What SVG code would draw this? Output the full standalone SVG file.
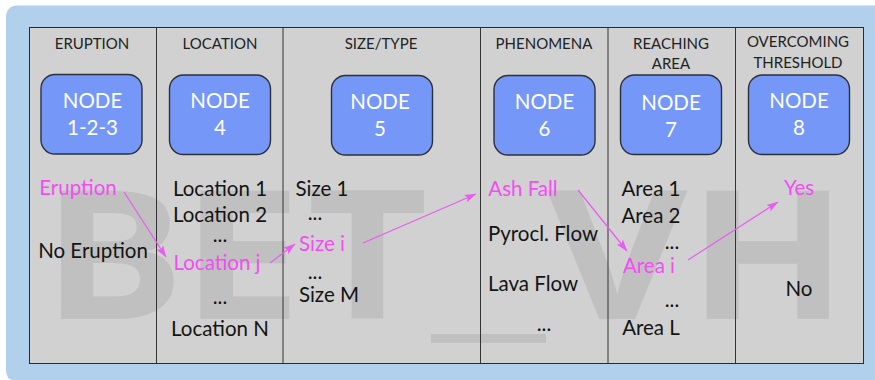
<svg xmlns="http://www.w3.org/2000/svg" width="875" height="380" viewBox="0 0 875 380">
<style>
text{font-family:Lato,"Open Sans","Liberation Sans",sans-serif;text-anchor:middle}
.h{font-size:15px;fill:#222}
.n{font-size:20.500px;fill:#fff}
.t{font-size:20.500px;fill:#141414}
.p{font-size:20.500px;fill:#f24df2}
.box{fill:#7597f8;stroke:#2c3038;stroke-width:1.4}
.div{stroke:#333;stroke-width:1;fill:none}
.a{stroke:#e85cf0;stroke-width:1.2;fill:none;marker-end:url(#ah)}
.w{font-family:"Open Sans",sans-serif;font-size:180px;font-weight:700;fill:#c0c0c0;text-anchor:start}
</style>
<defs>
<marker id="ah" viewBox="0 0 12 8" refX="11.500" refY="4" markerWidth="12" markerHeight="8" markerUnits="userSpaceOnUse" orient="auto"><path d="M0 0L12 4L0 8L2.500 4Z" fill="#e85cf0"/></marker>
</defs>
<rect x="0" y="0" width="875" height="380" fill="#fff"/>
<path d="M875 5.500H18Q6 5.500 6 18V370Q6 380 14 380H875Z" fill="#b0d0eb"/>
<rect x="29.500" y="27.500" width="834" height="336" fill="#d1d1d1"/>
<g id="watermark">
<text class="w" transform="translate(42 319) scale(1.18 1)">B</text>
<text class="w" transform="translate(181 319) scale(1.2 1)">E</text>
<text class="w" transform="translate(307 319) scale(1.16 1)">T</text>
<rect x="431" y="334" width="115" height="9" fill="#c0c0c0"/>
<text class="w" transform="translate(547 319) scale(1.2 1)">V</text>
<text class="w" transform="translate(688 319) scale(1.16 1)">H</text>
</g>
<rect x="29.500" y="27.500" width="834" height="336" fill="none" stroke="#2a2a2a" stroke-width="1"/>
<g id="dividers">
<path class="div" d="M156.500 28V363M283 28V363M480.500 28V363M608 28V363M735.500 28V363"/>
</g>
<g id="col-eruption">
<text class="h" x="92" y="48.500">ERUPTION</text>
<g id="node-1-2-3"><rect class="box" x="41" y="74.500" width="101" height="79.500" rx="14"/><text class="n" x="92.500" y="107.500">NODE</text><text class="n" x="92.500" y="134.500">1-2-3</text></g>
<text class="p" x="78" y="194.500">Eruption</text>
<text class="t" x="93" y="257.500">No Eruption</text>
</g>
<g id="col-location">
<text class="h" x="220" y="48.500">LOCATION</text>
<g id="node-4"><rect class="box" x="169.500" y="75" width="101" height="79.500" rx="14"/><text class="n" x="220" y="107.500">NODE</text><text class="n" x="220" y="134.500">4</text></g>
<text class="t" x="220" y="195.500">Location 1</text>
<text class="t" x="220" y="221.500">Location 2</text>
<text class="t" x="220" y="242">...</text>
<text class="p" x="217" y="269.500">Location j</text>
<text class="t" x="220" y="304">...</text>
<text class="t" x="220" y="335.500">Location N</text>
</g>
<g id="col-size">
<text class="h" x="381" y="48.500">SIZE/TYPE</text>
<g id="node-5"><rect class="box" x="331.500" y="75.500" width="101" height="79.500" rx="14"/><text class="n" x="380" y="108.500">NODE</text><text class="n" x="380" y="135.500">5</text></g>
<text class="t" x="322" y="195.500">Size 1</text>
<text class="t" x="315" y="220">...</text>
<text class="p" x="322" y="250.500">Size i</text>
<text class="t" x="315" y="279">...</text>
<text class="t" x="329" y="301.500">Size M</text>
</g>
<g id="col-phenomena">
<text class="h" x="544" y="48.500">PHENOMENA</text>
<g id="node-6"><rect class="box" x="494" y="75.500" width="101" height="79.500" rx="14"/><text class="n" x="544.500" y="108.500">NODE</text><text class="n" x="544.500" y="135.500">6</text></g>
<text class="p" x="523" y="195.500">Ash Fall</text>
<text class="t" x="543" y="240.500">Pyrocl. Flow</text>
<text class="t" x="533" y="290.500">Lava Flow</text>
<text class="t" x="544" y="331">...</text>
</g>
<g id="col-area">
<text class="h" x="671" y="48.500">REACHING</text>
<text class="h" x="671" y="69">AREA</text>
<g id="node-7"><rect class="box" x="620.500" y="75" width="101" height="79.500" rx="14"/><text class="n" x="671" y="109.500">NODE</text><text class="n" x="671" y="136.500">7</text></g>
<text class="t" x="651" y="195.500">Area 1</text>
<text class="t" x="651" y="222.500">Area 2</text>
<text class="t" x="672" y="249">...</text>
<text class="p" x="649" y="272.500">Area i</text>
<text class="t" x="672" y="307">...</text>
<text class="t" x="651" y="334.500">Area L</text>
</g>
<g id="col-threshold">
<text class="h" x="798" y="46.500">OVERCOMING</text>
<text class="h" x="798" y="67.500">THRESHOLD</text>
<g id="node-8"><rect class="box" x="748.500" y="75" width="101" height="79.500" rx="14"/><text class="n" x="799" y="107.500">NODE</text><text class="n" x="799" y="134.500">8</text></g>
<text class="p" x="799" y="194.500">Yes</text>
<text class="t" x="799" y="295.500">No</text>
</g>
<g id="connectors">
<path class="a" d="M124 192L166 257"/>
<path class="a" d="M270 263L295 244"/>
<path class="a" d="M363 243L476 194"/>
<path class="a" d="M578 190L627 251"/>
<path class="a" d="M688 260L778 202"/>
</g>
</svg>
